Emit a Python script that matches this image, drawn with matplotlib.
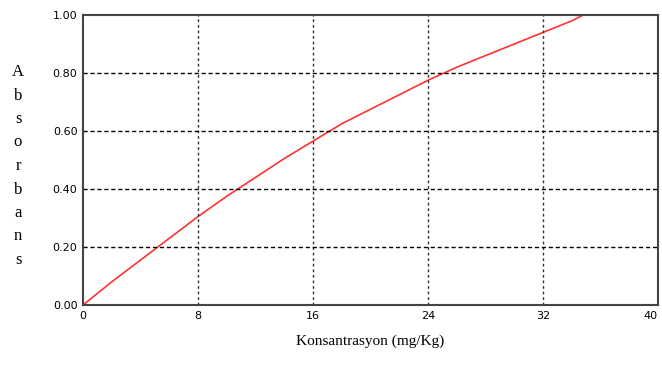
import matplotlib.pyplot as plt

# konsantrasyon (mg/Kg) ve absorbans degerleri
konsantrasyon = [0, 2, 4, 6, 8, 10, 12, 14, 16, 18, 20, 22, 24, 26, 28, 30, 32, 34, 34.8]
absorbans = [0.0, 0.08, 0.155, 0.23, 0.305, 0.375, 0.44, 0.505, 0.565, 0.625, 0.675,
             0.725, 0.775, 0.82, 0.86, 0.9, 0.94, 0.98, 1.0]

x_ticks = [0, 8, 16, 24, 32, 40]
y_ticks = [0.0, 0.2, 0.4, 0.6, 0.8, 1.0]

fig = plt.figure(figsize=(6.62, 3.65), dpi=100)
ax = fig.add_axes([0.1254, 0.1644, 0.8686, 0.7945])

ax.plot(konsantrasyon, absorbans, color="#ff3333", linewidth=1.2)

ax.set_xlim(0, 40)
ax.set_ylim(0, 1)
ax.set_xticks(x_ticks)
ax.set_yticks(y_ticks)
ax.set_xticklabels([str(t) for t in x_ticks])
ax.set_yticklabels([f"{t:.2f}" for t in y_ticks])
ax.tick_params(length=0, labelsize=8, pad=4)
ax.get_xticklabels()[-1].set_ha("right")

for t in x_ticks[1:-1]:
    ax.axvline(t, color="#333333", linestyle=(0, (2, 2)), linewidth=1)
for t in y_ticks[1:-1]:
    ax.axhline(t, color="black", linestyle=(0, (3, 2)), linewidth=1)

for s in ax.spines.values():
    s.set_linewidth(1.5)
    s.set_color("#444444")

ax.set_xlabel("Konsantrasyon (mg/Kg)", family="Liberation Serif", fontsize=11, labelpad=10)

# dikey harf harf yazilmis y etiketi
for i, ch in enumerate("Absorbans"):
    fig.text(18 / 662, 1 - (72 + i * 23.5) / 365, ch, family="Liberation Serif",
             fontsize=12, ha="center", va="center")

fig.savefig("out.png", dpi=100)
